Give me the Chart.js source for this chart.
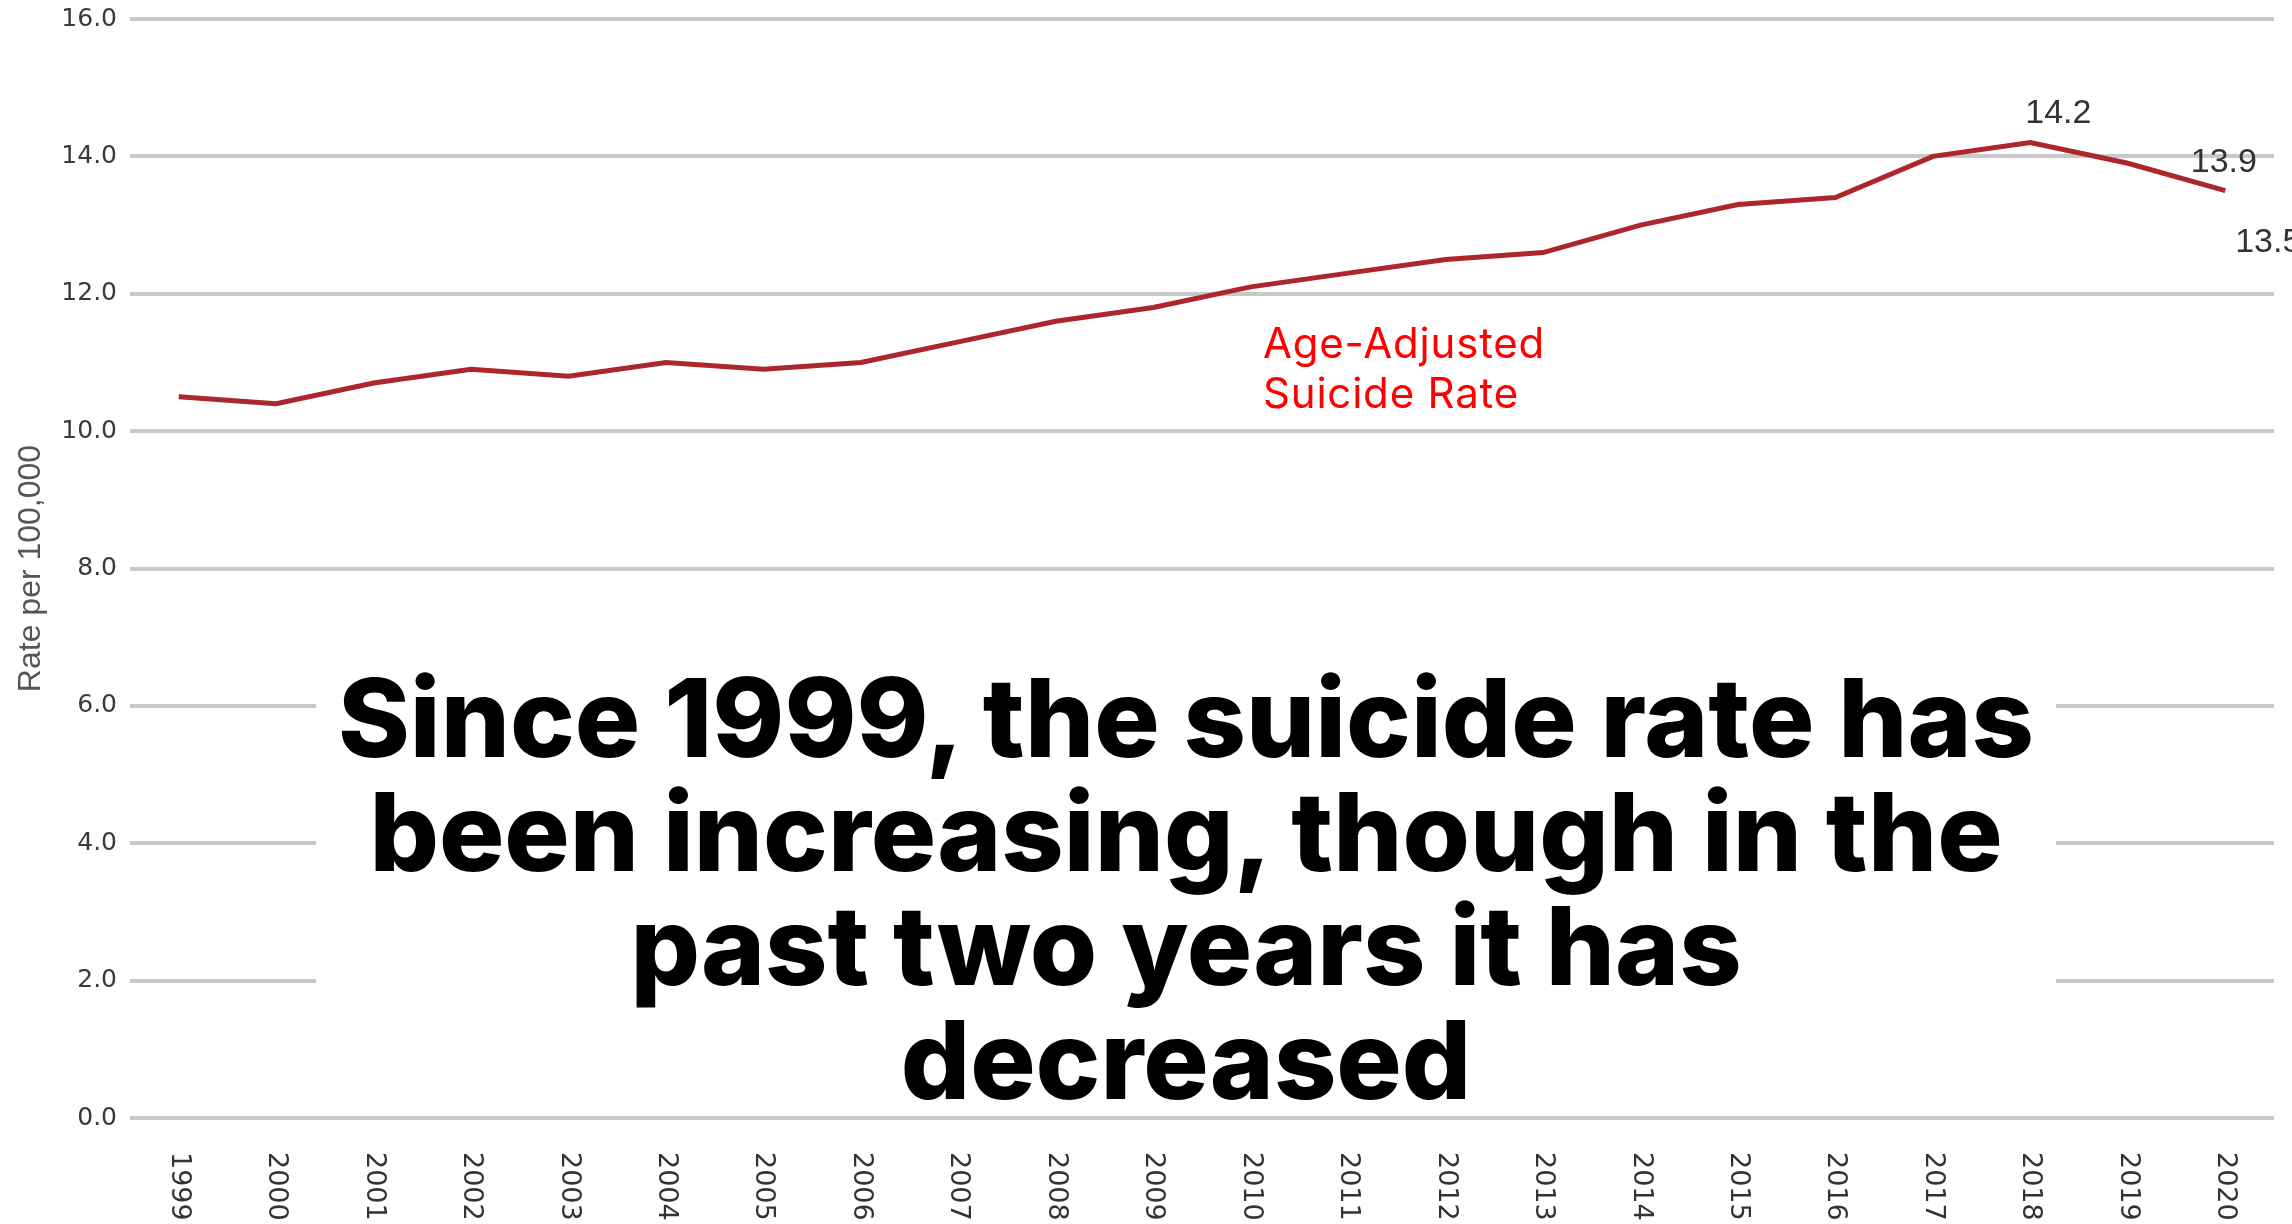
<!DOCTYPE html>
<html>
<head>
<meta charset="utf-8">
<script src="https://cdn.jsdelivr.net/npm/chart.js@4.4.1/dist/chart.umd.min.js"></script>
<style>
  html, body { margin: 0; padding: 0; background: #fff; }
  #wrap { position: relative; width: 2292px; height: 1224px; overflow: hidden; }
  #chart { position: absolute; left: 0; top: 0; }
  #seriesNote {
    position: absolute; left: 1263px; top: 318px;
    font-family: Inter, sans-serif; font-weight: 400; font-size: 42px; line-height: 50px;
    color: #ff0000; white-space: nowrap; letter-spacing: 0.8px;
  }
  #headlineBox {
    position: absolute; left: 316px; top: 640px; width: 1740px; height: 465px;
    background: #fff;
  }
  #headline {
    position: absolute; left: 0; top: 20px; width: 100%;
    font-family: Inter, sans-serif; font-weight: 800; font-size: 109px; line-height: 114px;
    text-align: center; color: #000; letter-spacing: 0;
  }
</style>
</head>
<body>
<div id="wrap">
  <canvas id="chart" width="2292" height="1224"></canvas>
  <div id="seriesNote">Age-Adjusted<br>Suicide Rate</div>
  <div id="headlineBox">
    <div id="headline">Since 1999, the suicide rate has<br>been increasing, though in the<br>past two years it has<br>decreased</div>
  </div>
</div>
<script>
const years = ["1999", "2000", "2001", "2002", "2003", "2004", "2005", "2006", "2007", "2008", "2009",
  "2010", "2011", "2012", "2013", "2014", "2015", "2016", "2017", "2018", "2019", "2020"];
const suicideRate = [10.5, 10.4, 10.7, 10.9, 10.8, 11.0, 10.9, 11.0, 11.3, 11.6, 11.8,
  12.1, 12.3, 12.5, 12.6, 13.0, 13.3, 13.4, 14.0, 14.2, 13.9, 13.5];
const rateTicks = [0, 2, 4, 6, 8, 10, 12, 14, 16];
const labelledYears = ["2018", "2019", "2020"];
// where each value label sits relative to its point
const labelOffsets = [[28, -20], [96, 9], [43, 61]];

// year labels read top to bottom under each tick
const yearLabels = {
  id: "yearLabels",
  afterDraw(chart) {
    const { ctx, scales: { x } } = chart;
    ctx.save();
    ctx.font = "27px 'DejaVu Sans'";
    ctx.fillStyle = "#333";
    ctx.textAlign = "left";
    ctx.textBaseline = "middle";
    years.forEach((year, i) => {
      ctx.save();
      ctx.translate(x.getPixelForTick(i), chart.chartArea.bottom + 34);
      ctx.rotate(Math.PI / 2);
      ctx.fillText(year, 0, 0);
      ctx.restore();
    });
    ctx.restore();
  }
};

const valueLabels = {
  id: "valueLabels",
  afterDatasetsDraw(chart) {
    const { ctx } = chart;
    const points = chart.getDatasetMeta(0).data;
    ctx.save();
    ctx.font = "34px 'Liberation Sans'";
    ctx.fillStyle = "#333";
    ctx.textAlign = "center";
    ctx.textBaseline = "alphabetic";
    labelledYears.forEach((year, n) => {
      const i = years.indexOf(year);
      const p = points[i];
      ctx.fillText(suicideRate[i].toFixed(1), p.x + labelOffsets[n][0], p.y + labelOffsets[n][1]);
    });
    ctx.restore();
  }
};

new Chart(document.getElementById("chart"), {
  type: "line",
  data: {
    labels: years,
    datasets: [{
      label: "Age-Adjusted Suicide Rate",
      data: suicideRate,
      borderColor: "#ad262b",
      borderWidth: 5,
      pointRadius: 0,
      tension: 0,
      fill: false
    }]
  },
  options: {
    responsive: false,
    animation: false,
    layout: { padding: { top: 19, right: 18, left: 0, bottom: 0 } },
    plugins: {
      legend: { display: false },
      tooltip: { enabled: false }
    },
    scales: {
      x: {
        offset: true,
        grid: { display: false },
        border: { display: false },
        ticks: { display: false },
        afterFit(scale) { scale.height = 106; }
      },
      y: {
        min: 0,
        max: 16,
        afterBuildTicks(scale) { scale.ticks = rateTicks.map(v => ({ value: v })); },
        ticks: {
          callback: v => v.toFixed(1),
          font: { family: "DejaVu Sans", size: 25 },
          color: "#3a3a3a",
          padding: 13
        },
        grid: { color: "#c8c8c8", lineWidth: 4, drawTicks: false },
        border: { display: false },
        title: {
          display: true,
          text: "Rate per 100,000",
          font: { family: "Liberation Sans", size: 32 },
          color: "#555",
          padding: { top: 12, bottom: 0 }
        },
        afterFit(scale) {
          scale.width = 130;
          scale.paddingTop = 0;
          scale.paddingBottom = 0;
        }
      }
    }
  },
  plugins: [yearLabels, valueLabels]
});
</script>
</body>
</html>
